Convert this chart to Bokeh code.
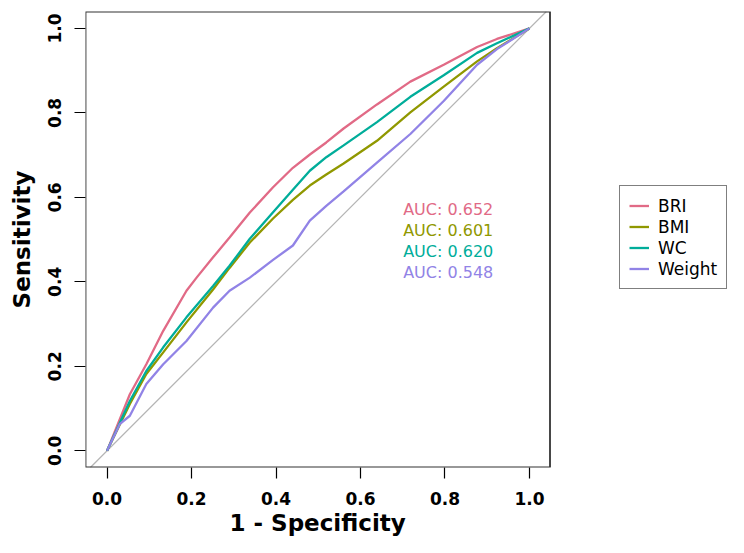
from bokeh.plotting import figure
from bokeh.models import (Legend, LegendItem, Slope, FixedTicker, Range1d,
                          BoxAnnotation, Title)
from bokeh.core.properties import value
from bokeh.embed import file_html
from bokeh.resources import INLINE

# ---- data ----
bri_fpr = [0, 0.054, 0.093, 0.133, 0.188, 0.212, 0.251, 0.290, 0.338, 0.393, 0.440,
           0.481, 0.519, 0.560, 0.639, 0.718, 0.797, 0.876, 0.923, 1.0]
bri_sens = [0, 0.134, 0.205, 0.284, 0.379, 0.410, 0.458, 0.505, 0.564, 0.624, 0.670,
            0.702, 0.730, 0.763, 0.820, 0.874, 0.914, 0.956, 0.975, 1.0]

bmi_fpr = [0, 0.054, 0.093, 0.133, 0.188, 0.251, 0.290, 0.338, 0.393, 0.440, 0.480,
           0.519, 0.560, 0.639, 0.718, 0.797, 0.876, 0.923, 1.0]
bmi_sens = [0, 0.111, 0.182, 0.233, 0.304, 0.382, 0.433, 0.493, 0.550, 0.594, 0.628,
            0.654, 0.680, 0.734, 0.801, 0.862, 0.922, 0.953, 1.0]

wc_fpr = [0, 0.054, 0.093, 0.133, 0.188, 0.251, 0.290, 0.338, 0.393, 0.440, 0.480,
          0.519, 0.560, 0.639, 0.718, 0.797, 0.876, 0.923, 1.0]
wc_sens = [0, 0.118, 0.189, 0.245, 0.316, 0.390, 0.438, 0.502, 0.565, 0.618, 0.663,
           0.695, 0.723, 0.778, 0.838, 0.889, 0.942, 0.965, 1.0]

wt_fpr = [0, 0.030, 0.054, 0.093, 0.133, 0.188, 0.251, 0.290, 0.338, 0.393, 0.440,
          0.480, 0.519, 0.560, 0.639, 0.718, 0.797, 0.876, 0.923, 1.0]
wt_sens = [0, 0.063, 0.083, 0.158, 0.205, 0.260, 0.339, 0.379, 0.410, 0.452, 0.486,
           0.545, 0.580, 0.614, 0.682, 0.750, 0.828, 0.914, 0.951, 1.0]

series_names = ["BRI", "BMI", "WC", "Weight"]
auc_values = [0.652, 0.601, 0.620, 0.548]
series_colors = ["#E16A86", "#909800", "#00AD9A", "#9183E6"]

tick_values = [0.0, 0.2, 0.4, 0.6, 0.8, 1.0]
tick_labels = ["0.0", "0.2", "0.4", "0.6", "0.8", "1.0"]

FONT = "DejaVu Sans"

# ---- layout geometry (pixels) ----
W, H = 728, 537
LEFT, TOP, BOTTOM = 85, 11, 70
frame_w = W - LEFT          # frame runs to the right edge (legend lives inside it)
box_w = 464.5               # visible plot box width
box_x0, box_x1 = -0.051, 1.0486
box_y0, box_y1 = -0.0395, 1.04
x_end = box_x0 + (box_x1 - box_x0) * frame_w / box_w

p = figure(width=W, height=H, output_backend="svg", toolbar_location=None,
           x_range=Range1d(box_x0, x_end), y_range=Range1d(box_y0, box_y1),
           min_border_left=LEFT, min_border_right=0, min_border_top=TOP,
           min_border_bottom=BOTTOM, y_axis_label="Sensitivity")

p.background_fill_color = "white"
p.border_fill_color = "white"
p.outline_line_color = None
p.xgrid.visible = False
p.ygrid.visible = False

for ax in (p.xaxis[0], p.yaxis[0]):
    ax.ticker = FixedTicker(ticks=tick_values)
    ax.major_label_overrides = {v: s for v, s in zip(tick_values, tick_labels)}
    ax.axis_line_color = None
    ax.major_tick_out = 11
    ax.major_tick_in = 0
    ax.major_tick_line_color = "black"
    ax.major_tick_line_width = 1.2
    ax.minor_tick_line_color = None
    ax.major_label_text_font = FONT
    ax.major_label_text_font_style = "bold"
    ax.major_label_text_font_size = "17px"
    ax.major_label_text_color = "black"
    ax.axis_label_text_font = FONT
    ax.axis_label_text_font_style = "bold"
    ax.axis_label_text_font_size = "23px"
    ax.axis_label_text_color = "black"

p.xaxis[0].major_label_standoff = 13
p.yaxis[0].major_label_standoff = 13
p.yaxis[0].axis_label_standoff = 11
p.yaxis[0].major_label_orientation = "vertical"

# x-axis title, centred under the plot box
xtitle = Title(text="1 - Specificity", align="left", offset=144,
               text_font=FONT, text_font_style="bold", text_font_size="23px",
               text_color="black", standoff=0)
p.add_layout(xtitle, "below")

diag = Slope(gradient=1, y_intercept=0, line_color="#B4B4B4", line_width=1.2, level="underlay")
p.add_layout(diag)

curves = [(bri_fpr, bri_sens), (bmi_fpr, bmi_sens), (wc_fpr, wc_sens), (wt_fpr, wt_sens)]
renderers = []
for (fx, sy), col in zip(curves, series_colors):
    r = p.line(fx, sy, line_color=col, line_width=2.3)
    renderers.append(r)

# plot box
box = BoxAnnotation(left=box_x0, right=box_x1, bottom=box_y0, top=box_y1,
                    fill_alpha=0, line_color="#333333", line_alpha=1.0, line_width=1.8)
p.add_layout(box)

# AUC texts
auc_texts = [f"AUC: {a:.3f}" for a in auc_values]
auc_x = [0.701] * len(auc_values)
auc_y = [0.571 - 0.0497 * i for i in range(len(auc_values))]
p.text(x=auc_x, y=auc_y, text=auc_texts, text_color=series_colors,
       text_font=value(FONT), text_font_size="16px",
       text_baseline="alphabetic", text_align="left")

legend = Legend(items=[LegendItem(label=n, renderers=[r]) for n, r in zip(series_names, renderers)],
                location=(534, 178))
legend.label_text_font = FONT
legend.label_text_font_size = "17px"
legend.label_text_color = "black"
legend.border_line_color = "black"
legend.border_line_width = 1
legend.background_fill_color = "white"
legend.background_fill_alpha = 1
legend.padding = 9
legend.spacing = 0
legend.label_height = 21
legend.glyph_height = 21
legend.glyph_width = 20
legend.label_standoff = 9
legend.margin = 0
p.add_layout(legend)

open("out.html", "w").write(file_html(p, INLINE))
